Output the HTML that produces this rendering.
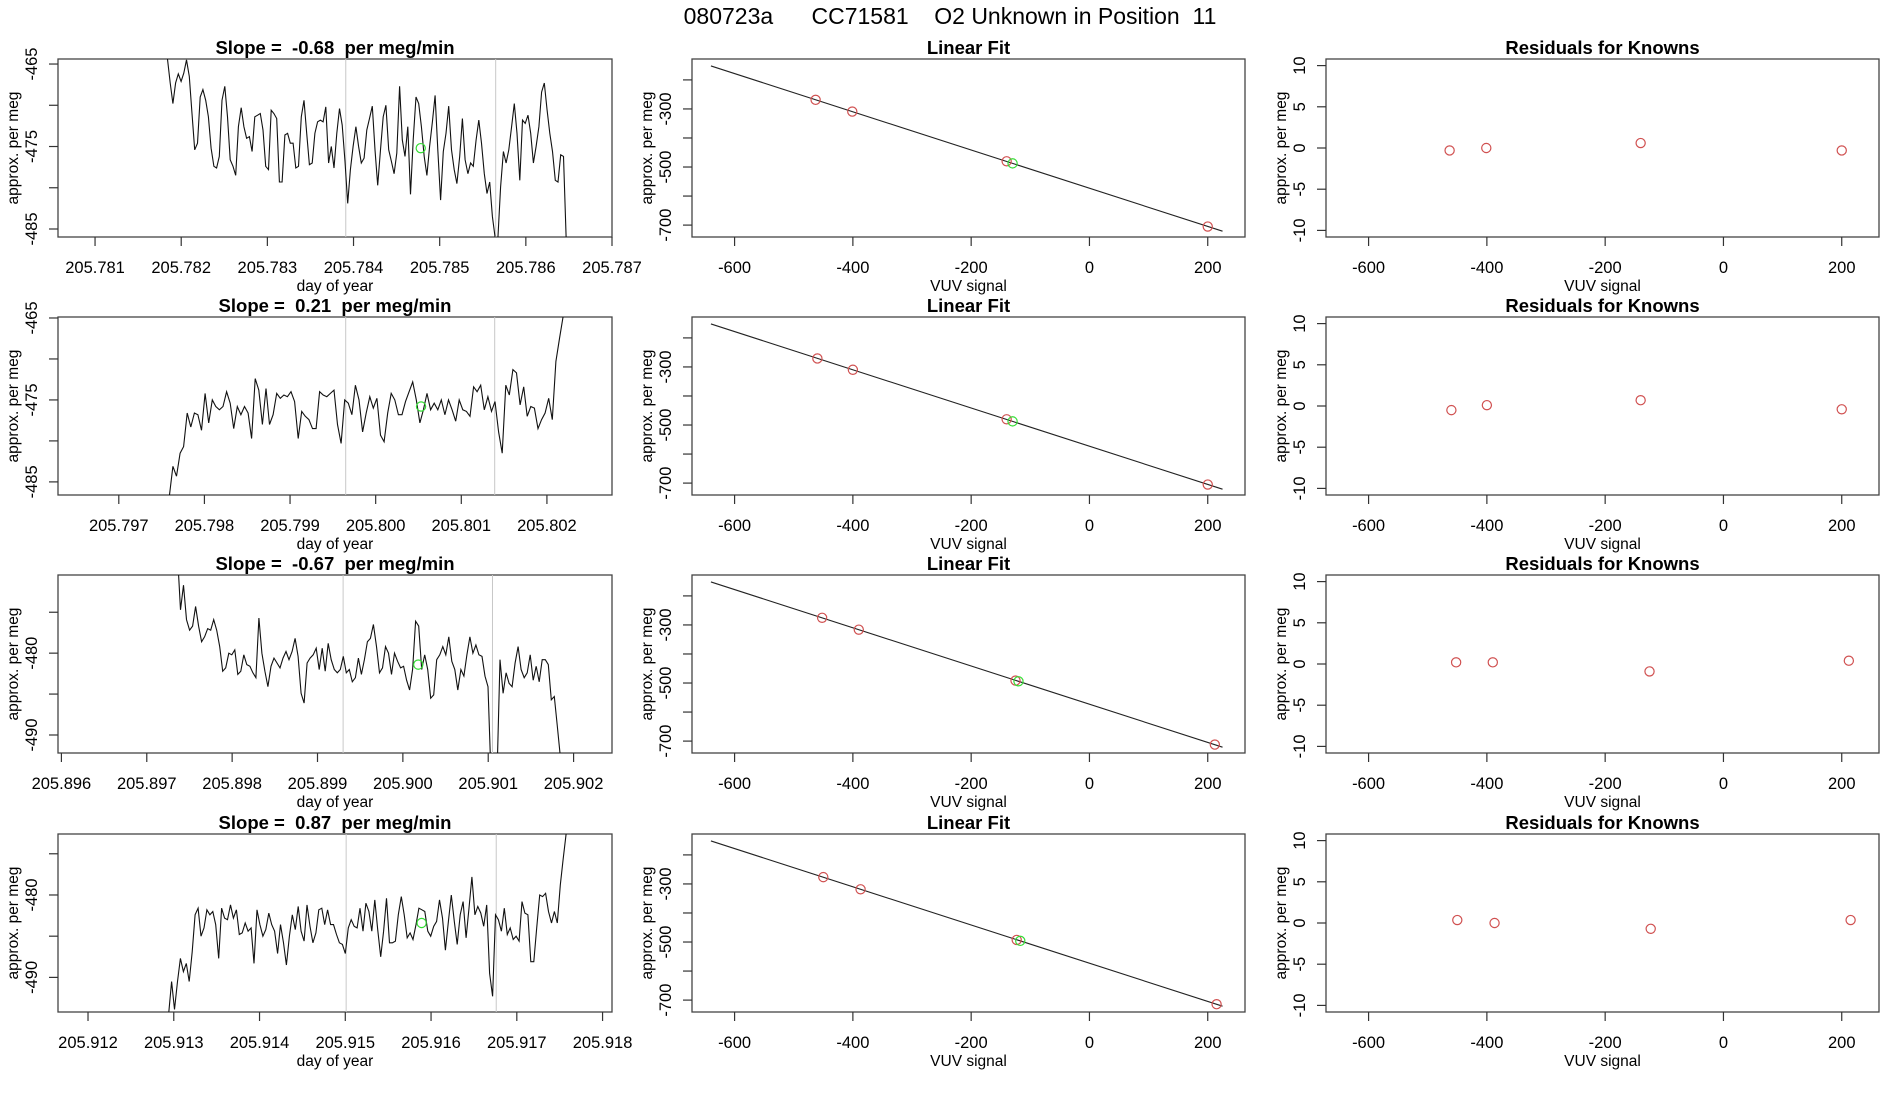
<!DOCTYPE html>
<html><head><meta charset="utf-8"><style>
html,body{margin:0;padding:0;background:#fff;}
svg{display:block;font-family:"Liberation Sans",Arial,sans-serif;}
svg text{white-space:pre;}
</style></head><body>
<svg id="chart" width="1900" height="1100" viewBox="0 0 1900 1100" xmlns="http://www.w3.org/2000/svg">
<text x="950" y="24" text-anchor="middle" font-size="23" xml:space="preserve">080723a      CC71581    O2 Unknown in Position  11</text>
</svg>
<script>
// ---------- DATA ----------
const rowTitles = ["Slope =  -0.68  per meg/min","Slope =  0.21  per meg/min","Slope =  -0.67  per meg/min","Slope =  0.87  per meg/min"];
const ts1Values = [-464.3,-467.3,-469.8,-467.3,-466.2,-467.1,-466.1,-464.5,-466.5,-471.0,-475.4,-474.6,-469.0,-468.1,-469.4,-471.4,-475.2,-477.4,-477.6,-476.2,-469.4,-467.7,-471.4,-476.6,-477.4,-478.5,-472.6,-470.3,-472.6,-474.0,-473.8,-475.6,-471.4,-471.2,-471.0,-473.0,-477.4,-477.8,-470.6,-471.0,-471.6,-479.3,-479.3,-473.6,-473.4,-474.6,-474.6,-477.6,-477.4,-471.4,-469.4,-473.4,-477.2,-477.0,-473.4,-472.0,-471.8,-472.0,-470.2,-477.0,-475.0,-477.6,-473.4,-470.4,-472.4,-476.8,-481.9,-477.8,-475.0,-472.6,-475.0,-477.0,-476.4,-473.0,-471.6,-470.1,-475.4,-479.7,-475.4,-471.4,-470.0,-475.4,-476.8,-478.3,-475.8,-467.7,-474.2,-476.2,-472.6,-480.8,-474.2,-469.0,-469.8,-472.6,-476.2,-478.5,-475.0,-472.0,-468.8,-475.4,-481.5,-475.6,-473.4,-470.1,-475.4,-477.8,-479.5,-476.2,-471.6,-476.6,-478.3,-477.0,-477.4,-474.2,-471.8,-474.6,-478.3,-480.7,-479.3,-483.5,-486.1,-486.1,-479.9,-475.6,-477.0,-475.4,-472.6,-469.8,-473.4,-479.1,-471.8,-472.2,-471.2,-473.4,-477.0,-475.0,-472.6,-468.4,-467.3,-470.6,-473.4,-475.6,-479.1,-479.3,-476.0,-476.2,-486.3,-490];
const ts2Values = [-486.8,-483.1,-484.3,-481.5,-480.7,-476.6,-478.3,-476.6,-476.8,-478.7,-474.2,-477.8,-475.0,-475.8,-476.2,-475.8,-474.0,-475.4,-478.5,-475.8,-476.8,-475.8,-476.6,-479.7,-472.4,-473.8,-478.0,-473.6,-478.0,-476.8,-474.2,-474.8,-474.4,-474.6,-474.0,-475.2,-479.7,-476.4,-477.0,-477.4,-478.5,-478.5,-474.0,-474.4,-474.6,-474.2,-473.8,-478.0,-480.3,-475.0,-475.4,-476.8,-473.2,-475.0,-478.9,-476.6,-474.6,-476.0,-474.8,-479.3,-480.1,-476.6,-474.2,-475.0,-476.8,-476.8,-475.2,-474.0,-472.8,-475.0,-477.8,-476.2,-474.2,-476.2,-475.4,-476.2,-475.0,-476.8,-475.0,-476.2,-477.6,-475.0,-476.2,-476.4,-477.0,-473.4,-474.0,-473.2,-476.2,-474.6,-476.4,-475.2,-478.9,-481.5,-473.2,-474.4,-471.3,-471.7,-475.6,-473.4,-477.0,-475.8,-476.0,-478.5,-477.4,-476.6,-474.8,-477.4,-470.3,-467.5,-464.9,-462];
const ts3Values = [-468,-474.7,-471.7,-475.9,-477.2,-476.7,-474.3,-476.7,-478.6,-478.0,-477.0,-477.2,-475.9,-477.2,-479.2,-482.2,-481.8,-480,-480.2,-479.6,-482.6,-482.2,-480.2,-481.4,-481.6,-482.4,-483.0,-475.7,-480,-482.2,-484.1,-481.6,-480.6,-481.2,-481.8,-480.6,-479.8,-480.8,-479.8,-478.2,-480.4,-484.9,-486.1,-481.2,-480.6,-480.2,-479.4,-482.0,-479.4,-482.2,-478.8,-480.8,-482.0,-482.4,-482.0,-480.4,-482.4,-482.0,-483.5,-483.0,-480.6,-482.6,-480.8,-478.6,-478.2,-476.5,-479.2,-482.4,-481.8,-479.2,-480,-482.6,-480,-481.0,-481.8,-481.6,-483.3,-484.5,-482.0,-476.1,-476.7,-482.0,-480.2,-482.0,-485.5,-485.1,-480.8,-480.2,-479.2,-480.2,-478.0,-481.0,-482.0,-484.5,-482.0,-482.8,-480.2,-478.0,-480,-479.0,-480.2,-480.4,-482.8,-484.1,-495,-495,-495,-480.8,-484.9,-482.4,-483.7,-484.1,-481.2,-479.2,-482.0,-483.0,-482.4,-480.2,-483.3,-481.6,-483.5,-480.8,-480.8,-481.4,-485.7,-485.3,-488.9,-492.6,-496];
const ts4Values = [-494.5,-490.5,-493.9,-490.5,-487.7,-489.3,-488.3,-490.5,-486.9,-482.4,-481.6,-485.0,-484.0,-481.8,-482.4,-482.0,-483.6,-487.7,-481.6,-482.8,-483.0,-481.2,-482.8,-481.8,-484.8,-484.6,-483.4,-484.4,-484.0,-488.3,-481.8,-483.6,-485.0,-484.2,-482.2,-483.6,-484.4,-487.1,-483.6,-485.8,-488.5,-485.0,-482.4,-484.2,-481.4,-484.4,-485.6,-481.2,-483.8,-485.8,-484.6,-481.8,-481.6,-483.6,-481.8,-483.6,-483.6,-484.8,-485.8,-486.0,-487.1,-484.0,-483.0,-483.8,-484.0,-481.6,-484.4,-481.0,-482.0,-484.4,-480.6,-484.2,-487.5,-484.4,-480.4,-485.8,-485.8,-485.6,-482.4,-480.2,-482.4,-485.2,-484.6,-485.4,-483.6,-481.6,-481.8,-482.0,-484.4,-485.0,-483.8,-483.2,-480.6,-482.8,-486.7,-483.2,-480.0,-483.2,-486.0,-482.4,-480.8,-485.2,-481.6,-477.8,-482.4,-481.4,-482.2,-483.8,-481.2,-489.5,-492.3,-482.4,-483.0,-484.4,-481.6,-484.8,-484.0,-485.4,-485.0,-485.6,-480.8,-482.2,-482.4,-488.1,-488.1,-484.0,-480.0,-480.2,-479.8,-482.0,-483.4,-482.0,-483.4,-478.8,-475.6,-472.5,-470];
const tsValues = [ts1Values, ts2Values, ts3Values, ts4Values];
const tsStart = [205.78184, 205.79759, 205.89736, 205.91294];
const tsEnd   = [205.78650, 205.80223, 205.90188, 205.91761];
const tsXDomain = [[205.78057,205.78700],[205.79629,205.80276],[205.89596,205.90245],[205.91165,205.91811]];
const tsYDomain = [[-485.97,-464.39],[-486.6,-464.88],[-492.2,-470.45],[-494.2,-472.6]];
const tsXTicks = [[205.781,205.782,205.783,205.784,205.785,205.786,205.787],[205.797,205.798,205.799,205.800,205.801,205.802],[205.896,205.897,205.898,205.899,205.900,205.901,205.902],[205.912,205.913,205.914,205.915,205.916,205.917,205.918]];
const tsYTicks = [[-465,-470,-475,-480,-485],[-465,-470,-475,-480,-485],[-475,-480,-485,-490],[-475,-480,-485,-490]];
const tsYLabels = [[-465,-475,-485],[-465,-475,-485],[-480,-490],[-480,-490]];
const tsVLines = [[205.78391,205.78565],[205.79965,205.80139],[205.89930,205.90105],[205.91501,205.91676]];
const unknownDay = [205.78478, 205.80053, 205.90018, 205.91589];
const unknownVal = [-475.2, -475.8, -481.4, -483.4];

const fitIntercept = [-573, -573, -573, -573];
const fitSlope = [-0.658, -0.658, -0.658, -0.658];
const fitXRange = [-640, 225];
const knownX = [[-463,-401,-140,200],[-460,-400,-140,200],[-452,-390,-125,212],[-450,-387,-123,215]];
const residuals = [[-0.3,0,0.6,-0.3],[-0.5,0.1,0.7,-0.4],[0.2,0.2,-0.9,0.4],[0.36,0,-0.7,0.36]];
const unknownX = [-130, -130, -120, -117];
const vuvTicks = [-600,-400,-200,0,200];
const fitYTicks = [-200,-300,-400,-500,-600,-700];
const fitYLabels = [-300,-500,-700];
const resYTicks = [-10,-5,0,5,10];

// ---------- LAYOUT ----------
const NS = "http://www.w3.org/2000/svg";
const svg = document.getElementById('chart');
const rowTop = [59, 317, 575, 834];
const boxH = 178;
const cols = [{l:58,r:612},{l:692,r:1245},{l:1326,r:1879}];
const vuvDomain = [-672, 263];
const fitYDomain = [-741, -128];
const resYDomain = [-10.8, 10.8];

function mk(tag, attrs, parent){
  const e = document.createElementNS(NS, tag);
  for (const k in attrs) e.setAttribute(k, attrs[k]);
  (parent||svg).appendChild(e);
  return e;
}
function scale(d0,d1,r0,r1){ return v => r0 + (v-d0)/(d1-d0)*(r1-r0); }
function fmt(v, dec){ return v.toFixed(dec); }

function panel(row, col, xs, ys, xTicks, xDec, yTicks, yLabels, titleTxt, xTitle, yDec){
  const c = cols[col], top = rowTop[row], bot = top + boxH;
  const g = mk('g', {});
  
  
  const t = mk('text', {x:(c.l+c.r)/2, y: top-5, 'text-anchor':'middle', 'font-size':18.5, 'font-weight':'bold'}, g);
  t.textContent = titleTxt;
  
  
  const box = mk('rect', {x:c.l, y:top, width:c.r-c.l, height:boxH, fill:'none', stroke:'#444', 'stroke-width':1.3}, g);
  
  
  xTicks.forEach(v => {
    const x = xs(v);
    const tk = mk('line', {x1:x, x2:x, y1:bot, y2:bot+9, stroke:'#333', 'stroke-width':1.2}, g);
    
    
    const lb = mk('text', {x:x, y:bot+36, 'text-anchor':'middle', 'font-size':16.5}, g);
    lb.textContent = fmt(v, xDec);
    
    
  });
  const xt = mk('text', {x:(c.l+c.r)/2, y:bot+54, 'text-anchor':'middle', 'font-size':15.5}, g);
  xt.textContent = xTitle;
  
  
  yTicks.forEach(v => {
    const y = ys(v);
    const tk = mk('line', {x1:c.l-9, x2:c.l, y1:y, y2:y, stroke:'#333', 'stroke-width':1.2}, g);
    
    
  });
  yLabels.forEach(v => {
    const y = ys(v);
    const lx = c.l - 21;
    const lb = mk('text', {x:lx, y:y, 'text-anchor':'middle', 'font-size':16.5, transform:'rotate(-90 '+lx+' '+y+')'}, g);
    lb.textContent = fmt(v, yDec);
    
    
  });
  const yx = c.l - 40, yy = (top+bot)/2;
  const yt = mk('text', {x:yx, y:yy, 'text-anchor':'middle', 'font-size':15.5, transform:'rotate(-90 '+yx+' '+yy+')'}, g);
  yt.textContent = 'approx. per meg';
  
  
  const cp = mk('clipPath', {id:'clip'+row+col}, g);
  mk('rect', {x:c.l, y:top, width:c.r-c.l, height:boxH}, cp);
  const inner = mk('g', {'clip-path':'url(#clip'+row+col+')'}, g);
  return inner;
}

function circle(parent, x, y, color, name){
  const e = mk('circle', {cx:x, cy:y, r:4.6, fill:'none', stroke:color, 'stroke-width':1.2}, parent);
  
  
}

for (let r = 0; r < 4; r++){
  const c0 = cols[0], top = rowTop[r], bot = top + boxH;
  const xs = scale(tsXDomain[r][0], tsXDomain[r][1], c0.l, c0.r);
  const ys = scale(tsYDomain[r][0], tsYDomain[r][1], bot, top);
  const g1 = panel(r, 0, xs, ys, tsXTicks[r], 3, tsYTicks[r], tsYLabels[r], rowTitles[r], 'day of year', 0);
  tsVLines[r].forEach(d => {
    const vl = mk('line', {x1:xs(d), x2:xs(d), y1:top, y2:bot, stroke:'#c8c8c8', 'stroke-width':1}, g1);
    
    
  });
  const vals = tsValues[r], n = vals.length;
  const pts = vals.map((v,i) => {
    const t = tsStart[r] + (tsEnd[r]-tsStart[r]) * i / (n-1);
    return xs(t).toFixed(1) + ',' + ys(v).toFixed(1);
  }).join(' ');
  const pl = mk('polyline', {points:pts, fill:'none', stroke:'#111', 'stroke-width':1.1}, g1);
  
  
  circle(g1, xs(unknownDay[r]), ys(unknownVal[r]), '#33dd33', 'unknown-mean-point');

  const c1 = cols[1];
  const fx = scale(vuvDomain[0], vuvDomain[1], c1.l, c1.r);
  const fy = scale(fitYDomain[0], fitYDomain[1], bot, top);
  const g2 = panel(r, 1, fx, fy, vuvTicks, 0, fitYTicks, fitYLabels, 'Linear Fit', 'VUV signal', 0);
  const line = v => fitIntercept[r] + fitSlope[r]*v;
  const fl = mk('line', {x1:fx(fitXRange[0]), y1:fy(line(fitXRange[0])), x2:fx(fitXRange[1]), y2:fy(line(fitXRange[1])), stroke:'#222', 'stroke-width':1.1}, g2);
  
  
  knownX[r].forEach((x,i) => circle(g2, fx(x), fy(line(x) + residuals[r][i]), '#d05050', 'known-standard-point'));
  circle(g2, fx(unknownX[r]), fy(line(unknownX[r])), '#33dd33', 'unknown-point');

  const c2 = cols[2];
  const rx = scale(vuvDomain[0], vuvDomain[1], c2.l, c2.r);
  const ry = scale(resYDomain[0], resYDomain[1], bot, top);
  const g3 = panel(r, 2, rx, ry, vuvTicks, 0, resYTicks, resYTicks, 'Residuals for Knowns', 'VUV signal', 0);
  knownX[r].forEach((x,i) => circle(g3, rx(x), ry(residuals[r][i]), '#d05050', 'residual-point'));
}
</script>
</body></html>
